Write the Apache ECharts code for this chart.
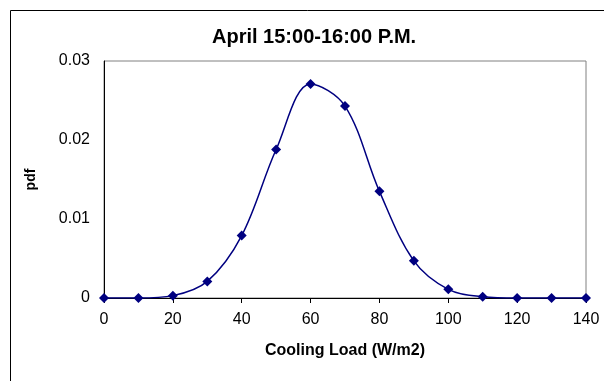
<!DOCTYPE html>
<html>
<head>
<meta charset="utf-8">
<script src="https://cdn.jsdelivr.net/npm/echarts@6/dist/echarts.min.js"></script>
<style>
  html, body { margin: 0; padding: 0; background: #fff; }
  #chart { width: 604px; height: 381px; }
</style>
</head>
<body>
<div id="chart"></div>
<script>
(function() {
  var loads = [0, 10, 20, 30, 40, 50, 60, 70, 80, 90, 100, 110, 120, 130, 140];
  var pdf = [0, 0, 0.0003, 0.0021, 0.0079, 0.0188, 0.0271, 0.0243, 0.0135, 0.0047, 0.0011, 0.00016, 0, 0, 0];
  var xTicks = [0, 140, 20];
  var yTicks = [0, 0.03, 0.01];

  var ink = '#000000';
  var navy = '#000080';
  var frame = '#808080';
  var font = 'Liberation Sans, Arial, sans-serif';

  var points = loads.map(function(x, i) { return [x, pdf[i]]; });

  var chart = echarts.init(document.getElementById('chart'), null, { renderer: 'canvas' });
  chart.setOption({
    animation: false,
    backgroundColor: '#fff',
    title: {
      text: 'April 15:00-16:00 P.M.',
      left: 212,
      top: 27,
      padding: 0,
      textStyle: { color: ink, fontFamily: font, fontSize: 20, fontWeight: 'bold' }
    },
    graphic: [{
      type: 'rect',
      shape: { x: 10.5, y: 10.5, width: 700, height: 500 },
      style: { fill: 'none', stroke: ink, lineWidth: 1 },
      silent: true
    }],
    grid: {
      left: 104, right: 18, top: 61, bottom: 83,
      show: true, borderColor: frame, borderWidth: 1, backgroundColor: '#fff'
    },
    xAxis: {
      type: 'value',
      min: xTicks[0], max: xTicks[1], interval: xTicks[2],
      name: 'Cooling Load (W/m2)',
      nameLocation: 'middle',
      nameGap: 45,
      nameTextStyle: { color: ink, fontFamily: font, fontSize: 16, fontWeight: 'bold' },
      axisLine: { show: true, onZero: false, lineStyle: { color: ink, width: 1 } },
      axisTick: { show: true, length: 5, lineStyle: { color: ink } },
      axisLabel: { color: ink, fontFamily: font, fontSize: 16, margin: 14 },
      splitLine: { show: false }
    },
    yAxis: {
      type: 'value',
      min: yTicks[0], max: yTicks[1], interval: yTicks[2],
      name: 'pdf',
      nameLocation: 'middle',
      nameRotate: 90,
      nameGap: 66,
      nameTextStyle: { color: ink, fontFamily: font, fontSize: 14, fontWeight: 'bold' },
      axisLine: { show: true, lineStyle: { color: ink, width: 1 } },
      axisTick: { show: false },
      axisLabel: { color: ink, fontFamily: font, fontSize: 16, margin: 14 },
      splitLine: { show: false }
    },
    series: [{
      type: 'line',
      data: points,
      smooth: 0.35,
      symbol: 'diamond',
      symbolSize: 10,
      lineStyle: { color: navy, width: 1.5 },
      itemStyle: { color: navy }
    }]
  });
})();
</script>
</body>
</html>
